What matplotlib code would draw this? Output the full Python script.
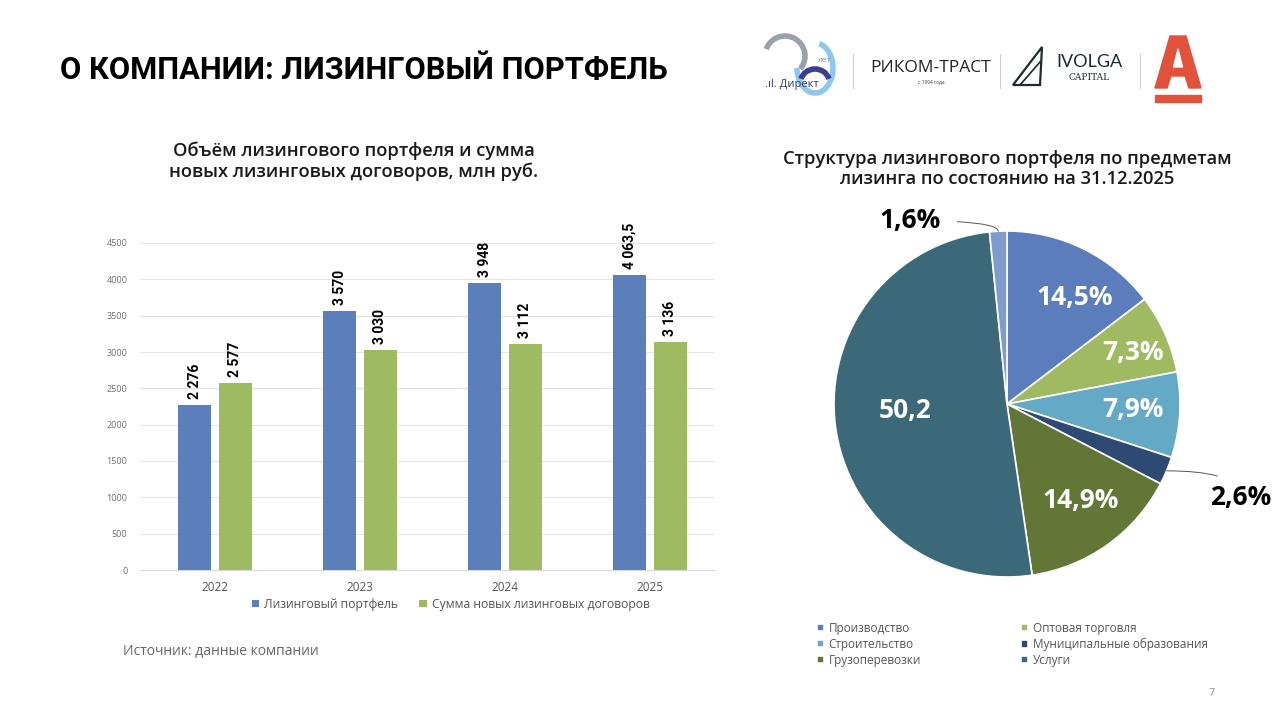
import numpy as np
import matplotlib.pyplot as plt
from matplotlib.patches import Rectangle, Arc, Polygon
from matplotlib import font_manager

plt.rcParams['font.family'] = ['Open Sans', 'DejaVu Sans']

names = {f.name for f in font_manager.fontManager.ttflist}
if 'Liberation Sans Narrow' in names:
    NARROW = ['Liberation Sans Narrow']
elif 'DejaVu Sans Condensed' in names:
    NARROW = ['DejaVu Sans Condensed']
else:
    NARROW = ['Roboto', 'DejaVu Sans']
print(NARROW)

# --- data ---
years = ['2022', '2023', '2024', '2025']
portfolio = [2276, 3570, 3948, 4063.5]
new_contracts = [2577, 3030, 3112, 3136]
portfolio_labels = ['2 276', '3 570', '3 948', '4 063,5']
new_labels = ['2 577', '3 030', '3 112', '3 136']
y_ticks = [0, 500, 1000, 1500, 2000, 2500, 3000, 3500, 4000, 4500]

sectors = ['Производство', 'Оптовая торговля', 'Строительство',
           'Муниципальные образования', 'Грузоперевозки', 'Услуги', '']
shares = [14.5, 7.3, 7.9, 2.6, 14.9, 50.2, 1.6]
share_labels = ['14,5%', '7,3%', '7,9%', '2,6%', '14,9%', '50,2', '1,6%']

BLUE = '#5a7fbb'
GREEN = '#9fbb62'
pie_colors = ['#5b7dbb', '#a0ba62', '#64a9c6', '#2f4a72', '#627636', '#3b6979', '#7f9ccc']

W, H = 1280, 717
fig = plt.figure(figsize=(12.8, 7.17), dpi=100)
fig.patch.set_facecolor('white')


def fx(x):
    return x / W


def fy(y):
    return 1 - y / H


# --- header ---
fig.text(fx(60), fy(70), 'О КОМПАНИИ: ЛИЗИНГОВЫЙ ПОРТФЕЛЬ', fontsize=22.2,
         fontweight='bold', family=['Roboto', 'DejaVu Sans'], va='center',
         ha='left', color='black')

# logos (rough)
logo = fig.add_axes([0, 0, 1, 1], zorder=-1)
logo.set_xlim(0, W)
logo.set_ylim(H, 0)
logo.axis('off')
logo.add_patch(Arc((785, 56), 40, 40, theta1=200, theta2=40, color='#9aa0ad', lw=4))
logo.add_patch(Arc((815, 68), 36, 50, theta1=-80, theta2=180, color='#8fc8ee', lw=4))
logo.add_patch(Arc((815, 84), 30, 30, theta1=200, theta2=340, color='#3a3f8f', lw=4))
logo.text(765, 85, '.ıl. Директ', fontsize=8, color='#2c3a6b', va='center')
logo.text(818, 60, 'лет', fontsize=6, color='#7f8a99', va='center')
for sx in [853, 1000, 1140]:
    logo.plot([sx, sx], [54, 88], color='#cfcfcf', lw=0.8)
logo.text(931, 68, 'РИКОМ-ТРАСТ', fontsize=12.5, ha='center', va='center',
          color='#222222')
logo.text(931, 82, 'с 1994 года', fontsize=3.5, ha='center', va='center', color='#333333')
logo.add_patch(Polygon([[1013, 85], [1042, 47], [1040, 85]], closed=True,
                       fill=False, ec='#1f2a30', lw=1.6))
logo.plot([1020, 1040], [85, 62], color='#1f2a30', lw=1.2)
logo.text(1089, 62, 'IVOLGA', fontsize=13, ha='center', va='center',
          family=['Lato', 'DejaVu Sans'], color='#1f2a30')
logo.text(1089, 77, 'CAPITAL', fontsize=6.5, ha='center', va='center',
          family=['DejaVu Serif'], color='#1f2a30')
logo.add_patch(Polygon([[1170, 36], [1186, 36], [1201, 88], [1189, 88], [1185, 76],
                        [1171, 76], [1167, 88], [1155, 88]], closed=True,
                       color='#e0533a'))
logo.add_patch(Polygon([[1178, 49], [1182.5, 67], [1173.5, 67]], closed=True,
                       color='white'))
logo.add_patch(Rectangle((1155, 95), 46, 7, color='#e0533a'))
logo.text(1212, 694, '7', fontsize=8, color='#9a9a9a', ha='center', va='center')

# --- bar chart ---
fig.text(fx(354), fy(161), 'Объём лизингового портфеля и сумма\nновых лизинговых договоров, млн руб.',
         fontsize=13.2, fontweight='semibold', ha='center', va='center',
         linespacing=1.2, color='#1a1a1a')

ax = fig.add_axes([fx(140), fy(570), 575 / W, 327 / H])
x = np.arange(len(years))
bw = 0.228
off = 0.141
ax.bar(x - off, portfolio, bw, color=BLUE, label='Лизинговый портфель', zorder=3)
ax.bar(x + off, new_contracts, bw, color=GREEN, label='Сумма новых лизинговых договоров', zorder=3)
for i in range(len(years)):
    ax.text(x[i] - off, portfolio[i] + 80, portfolio_labels[i], rotation=90,
            ha='center', va='bottom', fontsize=10, fontweight='bold', family=NARROW)
    ax.text(x[i] + off, new_contracts[i] + 80, new_labels[i], rotation=90,
            ha='center', va='bottom', fontsize=10, fontweight='bold', family=NARROW)
ax.set_xlim(-0.517, 3.448)
ax.set_ylim(0, 4500)
ax.set_yticks(y_ticks)
ax.set_yticklabels([str(t) for t in y_ticks], fontsize=6.5, color='#6f6f6f')
ax.set_xticks(x)
ax.set_xticklabels(years, fontsize=8.5, color='#555555')
ax.grid(axis='y', color='#e4e4e4', lw=0.8, zorder=0)
for s in ['top', 'right', 'left']:
    ax.spines[s].set_visible(False)
ax.spines['bottom'].set_color('#d9d9d9')
ax.tick_params(axis='both', length=0)
ax.tick_params(axis='y', pad=9)
ax.tick_params(axis='x', pad=8)
ax.legend(loc='upper center', bbox_to_anchor=(0.54, -0.052), ncol=2, frameon=False,
          fontsize=8.7, handlelength=0.6, handleheight=0.6, columnspacing=1.8,
          handletextpad=0.4, labelcolor='#555555')

fig.text(fx(123), fy(651), 'Источник: данные компании', fontsize=10,
         color='#666666', va='center')

# --- pie chart ---
fig.text(fx(1007), fy(169), 'Структура лизингового портфеля по предметам\nлизинга по состоянию на 31.12.2025',
         fontsize=13.2, fontweight='semibold', ha='center', va='center',
         linespacing=1.2, color='#1a1a1a')

cx, cy, r = 1007, 404, 173
pax = fig.add_axes([fx(cx - r), fy(cy + r), 2 * r / W, 2 * r / H])
wedges, _ = pax.pie(shares, colors=pie_colors, startangle=90, counterclock=False,
                    radius=1, wedgeprops=dict(edgecolor='white', linewidth=1.2))
pax.set_xlim(-1, 1)
pax.set_ylim(-1, 1)
pax.set_aspect('equal')
pax.axis('off')

total = sum(shares)
start = 90
# label placement inside wedges: (radial distance, angle tweak in degrees)
inside = {0: (0.73, -6), 1: (0.79, -1.7), 2: (0.73, 1.3), 4: (0.70, 1.8), 5: (0.59, -3.7)}
for i, v in enumerate(shares):
    ang = start - 360 * v / total / 2
    start -= 360 * v / total
    if i in inside:
        d, tweak = inside[i]
        a = np.deg2rad(ang + tweak)
        pax.text(d * np.cos(a), d * np.sin(a), share_labels[i], ha='center',
                 va='center', color='white', fontsize=19, fontweight='bold',
                 family=['Open Sans', 'DejaVu Sans'])
    else:
        a = np.deg2rad(ang)
        if i == 3:
            tx, ty, conn = 1.35, -0.54, 'angle3,angleA=90,angleB=0'
        else:
            tx, ty, conn = -0.56, 1.06, 'angle3,angleA=0,angleB=90'
        pax.annotate(share_labels[i], xy=(np.cos(a), np.sin(a)), xytext=(tx, ty),
                     ha='center', va='center', fontsize=19, fontweight='bold',
                     family=['Open Sans', 'DejaVu Sans'], annotation_clip=False,
                     arrowprops=dict(arrowstyle='-', color='#555555', lw=0.7,
                                     connectionstyle=conn, shrinkA=10, shrinkB=0))

order = [0, 2, 4, 1, 3, 5]
fig.legend([wedges[k] for k in order], [sectors[k] for k in order], loc='upper left',
           bbox_to_anchor=(fx(806), fy(611)), ncol=2, frameon=False, fontsize=8.5,
           handlelength=0.6, handleheight=0.6, columnspacing=8.5, handletextpad=0.4,
           labelspacing=0.25, labelcolor='#555555')

fig.savefig('out.png', dpi=100, facecolor='white')
